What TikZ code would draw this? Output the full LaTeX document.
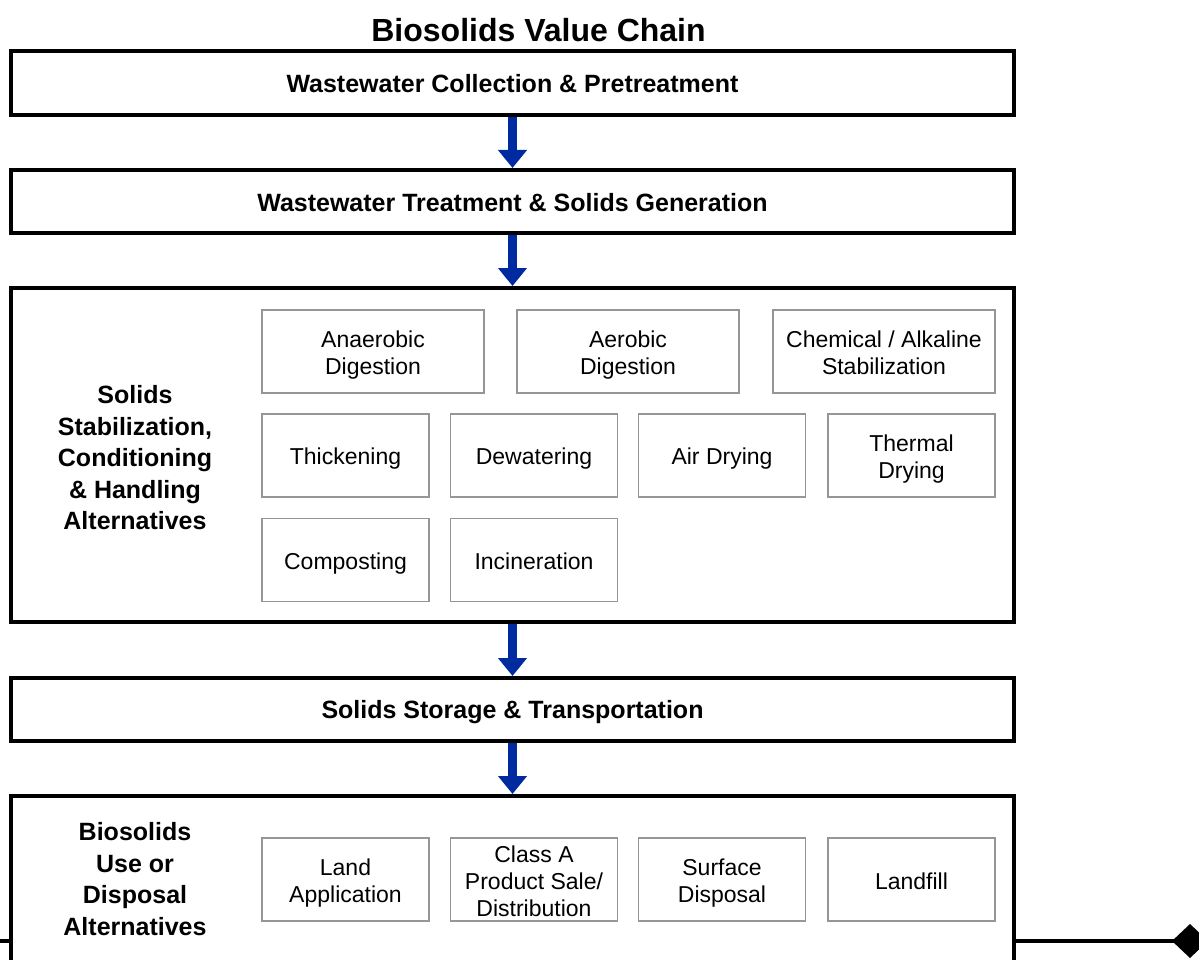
\documentclass[tikz,border=0pt]{standalone}
\usepackage{fontspec}
\setmainfont{Liberation Sans}
\usetikzlibrary{arrows.meta}
\definecolor{flowblue}{RGB}{0,42,160}
\definecolor{subgray}{RGB}{150,150,150}
% struts that fix the height of the first line and the depth of the last one
\newcommand{\topstrut}{\rule{0pt}{23pt}}
\newcommand{\botstrut}{\rule[-4pt]{0pt}{4pt}}
\begin{document}
\begin{tikzpicture}[x=1pt,y=-1pt,
  stagebox/.style={draw=black,line width=4pt,fill=white,rectangle,
    minimum width=1003pt,inner sep=0pt,
    font=\fontsize{25}{31}\selectfont\bfseries,align=center,
    execute at begin node={\rule{0pt}{24pt}},
    execute at end node={\rule[-4pt]{0pt}{4pt}}},
  subbox/.style={draw=subgray,line width=1.5pt,fill=white,rectangle,
    minimum height=83pt,inner sep=0pt,
    font=\fontsize{23}{27}\selectfont,align=center},
  widebox/.style={subbox,minimum width=222pt},
  narrowbox/.style={subbox,minimum width=167pt},
  sidelabel/.style={font=\fontsize{25}{31.5}\selectfont\bfseries,align=center},
  flow/.style={draw=flowblue,line width=9pt,
    -{Triangle[width=28pt,length=18pt,fill=flowblue]}}]
\useasboundingbox (0,0) rectangle (1199,960);
\clip (0,0) rectangle (1199,960);

% base line with diamond end, passing behind the last stage
\coordinate (baseL) at (-10,941);
\coordinate (baseR) at (1208,941);
\draw[line width=4pt,-{Diamond[width=34pt,length=36pt]}] (baseL) -- (baseR);

% title
\node[font=\fontsize{32}{38}\selectfont\bfseries] (title) at (538.5,30) {Biosolids Value Chain};

% main stages
\node[stagebox,minimum height=64pt] (s1) at (512.5,83) {Wastewater Collection \& Pretreatment};
\node[stagebox,minimum height=63pt] (s2) at (512.5,201.5) {Wastewater Treatment \& Solids Generation};
\node[stagebox,minimum height=334pt] (s3) at (512.5,455) {};
\node[stagebox,minimum height=63pt] (s4) at (512.5,709.5) {Solids Storage \& Transportation};
\node[stagebox,minimum height=204pt] (s5) at (512.5,898) {};

% flow arrows between stages
\draw[flow] (s1.south) -- (s2.north);
\draw[flow] (s2.south) -- (s3.north);
\draw[flow] (s3.south) -- (s4.north);
\draw[flow] (s4.south) -- (s5.north);

% stabilization, conditioning and handling alternatives
\node[sidelabel] (l3) at (135,458) {Solids\\Stabilization,\\Conditioning\\\& Handling\\Alternatives};
\node[widebox] (anaer) at (373,351.5) {\topstrut Anaerobic\\Digestion\botstrut};
\node[widebox] (aer) at (628,351.5) {\topstrut Aerobic\\Digestion\botstrut};
\node[widebox] (chem) at (884,351.5) {\topstrut Chemical / Alkaline\\Stabilization\botstrut};
\node[narrowbox] (thick) at (345.5,455.5) {\topstrut Thickening\botstrut};
\node[narrowbox] (dewat) at (534,455.5) {\topstrut Dewatering\botstrut};
\node[narrowbox] (airdry) at (722,455.5) {\topstrut Air Drying\botstrut};
\node[narrowbox] (thdry) at (911.5,455.5) {\topstrut Thermal\\Drying\botstrut};
\node[narrowbox] (compost) at (345.5,560) {\topstrut Composting\botstrut};
\node[narrowbox] (incin) at (534,560) {\topstrut Incineration\botstrut};

% use or disposal alternatives
\node[sidelabel] (l5) at (135,879) {Biosolids\\Use or\\Disposal\\Alternatives};
\node[narrowbox] (landapp) at (345.5,879.5) {\topstrut Land\\Application\botstrut};
\node[narrowbox] (classa) at (534,879.5) {\topstrut Class A\\Product Sale/\\Distribution\botstrut};
\node[narrowbox] (surface) at (722,879.5) {\topstrut Surface\\Disposal\botstrut};
\node[narrowbox] (landfill) at (911.5,879.5) {\topstrut Landfill\botstrut};
\end{tikzpicture}
\end{document}
